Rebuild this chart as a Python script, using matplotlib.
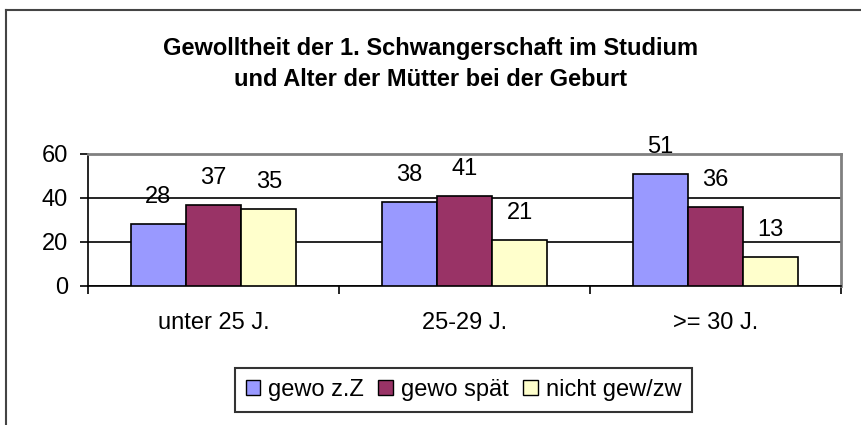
import matplotlib.pyplot as plt
import numpy as np
from matplotlib.lines import Line2D
from matplotlib.patches import Patch

# chart data
groups = ["unter 25 J.", "25-29 J.", ">= 30 J."]
series_names = ["gewo z.Z", "gewo spät", "nicht gew/zw"]
gewo_zz = [28, 38, 51]
gewo_spaet = [37, 41, 36]
nicht_gew = [35, 21, 13]
colors = ["#9999FF", "#993366", "#FFFFCC"]
y_ticks = [0, 20, 40, 60]

plt.rcParams['font.family'] = ['Liberation Sans', 'DejaVu Sans']
FS = 17

W, H = 861, 425
fig = plt.figure(figsize=(W / 100, H / 100), dpi=100)

# outer chart frame (only left/top visible in the crop)
fig.add_artist(Line2D([6 / W, 6 / W], [0, 1 - 10 / H], color="#444444", lw=1.5))
fig.add_artist(Line2D([6 / W, 1], [1 - 10 / H, 1 - 10 / H], color="#444444", lw=1.5))

ax = fig.add_axes([88 / W, 1 - 286 / H, (841 - 88) / W, (286 - 154) / H])

x = np.arange(len(groups))
width = 0.22
all_series = [gewo_zz, gewo_spaet, nicht_gew]
for i, vals in enumerate(all_series):
    bars = ax.bar(x + (i - 1) * width, vals, width, color=colors[i],
                  edgecolor="black", linewidth=1.2, zorder=3)
    for b, v in zip(bars, vals):
        ax.annotate(str(v), (b.get_x() + b.get_width() / 2, v),
                    xytext=(0, 19.5), textcoords="offset points",
                    ha="center", va="center", fontsize=FS, zorder=4)

ax.set_xlim(-0.5, 2.5)
ax.set_ylim(0, 60)
ax.set_yticks(y_ticks)
ax.set_yticklabels([str(t) for t in y_ticks], fontsize=FS)
ax.yaxis.grid(True, color="black", linewidth=1.2, zorder=1)
ax.set_axisbelow(True)

ax.set_xticks(x)
ax.set_xticklabels(groups, fontsize=FS)
ax.set_xticks([-0.5, 0.5, 1.5, 2.5], minor=True)
ax.tick_params(axis="x", which="major", length=0, pad=19)
ax.tick_params(axis="x", which="minor", length=6, width=1.2, direction="out")
ax.tick_params(axis="y", length=6, width=1.2, direction="out", pad=8.5)

for s in ["top", "right"]:
    ax.spines[s].set_color("#808080")
    ax.spines[s].set_linewidth(2)
for s in ["left", "bottom"]:
    ax.spines[s].set_color("black")
    ax.spines[s].set_linewidth(1.2)

fig.text(0.5, 1 - 48 / H, "Gewolltheit der 1. Schwangerschaft im Studium",
         ha="center", va="center", fontsize=17, fontweight="bold")
fig.text(0.5, 1 - 80 / H, "und Alter der Mütter bei der Geburt",
         ha="center", va="center", fontsize=17, fontweight="bold")

handles = [Patch(facecolor=c, edgecolor="black", linewidth=1) for c in colors]
leg = fig.legend(handles, series_names, loc="center",
                 bbox_to_anchor=(463.5 / W, 1 - 390 / H), ncol=3,
                 fontsize=FS, frameon=True, fancybox=False,
                 handlelength=0.62, handleheight=0.62, handletextpad=0.34,
                 columnspacing=0.6, borderpad=0.45)
leg.get_frame().set_edgecolor("black")
leg.get_frame().set_linewidth(1.5)

fig.savefig("out.png", dpi=100)
